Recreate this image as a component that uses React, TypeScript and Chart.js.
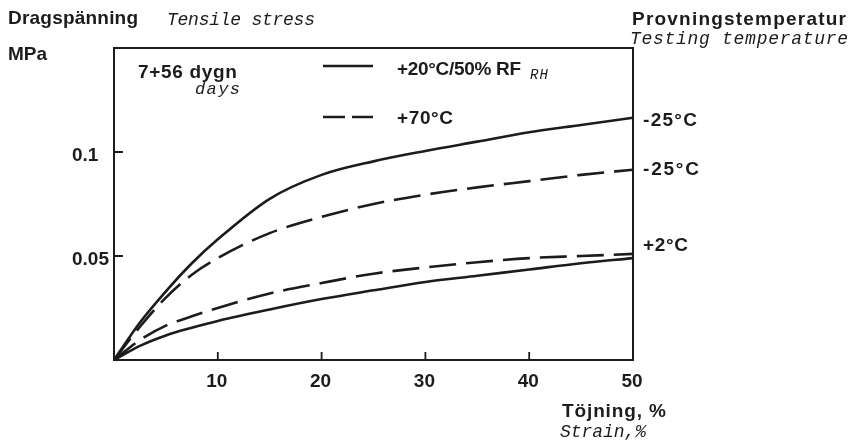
import React, { useEffect, useRef } from "react";
import { Chart, registerables } from "chart.js";

Chart.register(...registerables);

// Strain, % (x positions at which the curves were read)
const strainPoints = [0, 2.5, 5, 7.5, 10, 15, 20, 25, 30, 35, 40, 45, 50];
// Tensile stress, MPa
const solidCold = [0, 0.018, 0.033, 0.0465, 0.058, 0.0775, 0.089, 0.0955, 0.1005, 0.105, 0.1095, 0.113, 0.1165];
const dashedCold = [0, 0.016, 0.03, 0.041, 0.049, 0.061, 0.0688, 0.075, 0.0795, 0.083, 0.086, 0.089, 0.0915];
const dashedWarm = [0, 0.0096, 0.0165, 0.021, 0.025, 0.032, 0.037, 0.0415, 0.0445, 0.047, 0.049, 0.05, 0.051];
const solidWarm = [0, 0.0068, 0.0118, 0.0155, 0.0188, 0.0243, 0.0293, 0.0335, 0.0375, 0.0405, 0.0435, 0.0465, 0.049];

const xTickValues = [10, 20, 30, 40, 50];
const xTickLabels = ["10", "20", "30", "40", "50"];
const yTickValues = [0.05, 0.1];
const yTickLabels = ["0.05", "0.1"];

const endLabels = ["-25°C", "-25°C", "+2°C"];
const legendLabels = ["+20°C/50% RF", "+70°C"];

const INK = "#1c1c1c";
const SANS = "'Liberation Sans', Arial, sans-serif";
const MONO = "'Liberation Mono', 'Courier New', monospace";

function text(
  ctx: CanvasRenderingContext2D,
  s: string,
  x: number,
  y: number,
  font: string,
  opts: { align?: CanvasTextAlign; width?: number } = {}
) {
  ctx.save();
  ctx.font = font;
  ctx.fillStyle = INK;
  ctx.textBaseline = "alphabetic";
  ctx.textAlign = opts.align || "left";
  (ctx as any).letterSpacing = "0px";
  if (opts.width) {
    const w = ctx.measureText(s).width;
    const ls = (opts.width - w) / Math.max(1, s.length - 1);
    (ctx as any).letterSpacing = ls.toFixed(2) + "px";
  }
  ctx.fillText(s, x, y);
  ctx.restore();
}

const decorPlugin = {
  id: "decor",
  afterDatasetsDraw(chart: any) {
    const { ctx, chartArea, scales } = chart;
    const xs = scales.x;
    const ys = scales.y;
    const { left, right, top, bottom } = chartArea;
    ctx.save();
    // frame
    ctx.strokeStyle = INK;
    ctx.lineWidth = 2;
    ctx.beginPath();
    ctx.rect(left, top, right - left, bottom - top);
    ctx.stroke();
    // inward ticks
    ctx.lineWidth = 1.8;
    ctx.beginPath();
    xTickValues.forEach((v) => {
      const px = xs.getPixelForValue(v);
      if (v < 50) {
        ctx.moveTo(px, bottom);
        ctx.lineTo(px, bottom - 8);
      }
    });
    yTickValues.forEach((v) => {
      const py = ys.getPixelForValue(v);
      ctx.moveTo(left, py);
      ctx.lineTo(left + 9, py);
    });
    ctx.stroke();
    ctx.restore();

    const bold = `bold 19px ${SANS}`;
    const ital = `italic 18px ${MONO}`;

    // tick labels
    xTickValues.forEach((v, i) => {
      text(ctx, xTickLabels[i], xs.getPixelForValue(v) - 1, bottom + 27, bold, { align: "center" });
    });
    yTickValues.forEach((v, i) => {
      text(ctx, yTickLabels[i], 72, ys.getPixelForValue(v) + 9, bold);
    });

    // axis titles
    text(ctx, "Dragspänning", 8, 24, bold, { width: 130 });
    text(ctx, "Tensile stress", 167, 25, ital, { width: 148 });
    text(ctx, "MPa", 8, 60, bold, { width: 39 });
    text(ctx, "Provningstemperatur", 632, 25, bold, { width: 214 });
    text(ctx, "Testing temperature", 630, 44, ital, { width: 218 });
    text(ctx, "Töjning, %", 562, 417, bold, { width: 104 });
    text(ctx, "Strain,%", 560, 437, ital, { width: 86 });

    // legend
    text(ctx, "7+56 dygn", 138, 78, bold, { width: 99 });
    text(ctx, "days", 195, 94, `italic 17px ${MONO}`, { width: 45 });
    ctx.save();
    ctx.strokeStyle = INK;
    ctx.lineWidth = 2.6;
    ctx.beginPath();
    ctx.moveTo(323, 66);
    ctx.lineTo(373, 66);
    ctx.stroke();
    ctx.setLineDash([22, 7]);
    ctx.beginPath();
    ctx.moveTo(323, 117);
    ctx.lineTo(373, 117);
    ctx.stroke();
    ctx.restore();
    text(ctx, legendLabels[0], 397, 75, bold, { width: 124 });
    text(ctx, "RH", 530, 79, `italic 14px ${MONO}`, { width: 18 });
    text(ctx, legendLabels[1], 397, 124, bold, { width: 56 });

    // curve end labels
    const endVals = [solidCold[solidCold.length - 1], dashedCold[dashedCold.length - 1], dashedWarm[dashedWarm.length - 1]];
    const endOffsets = [8, 5, -3];
    const endWidths = [54, 56, 45];
    endVals.forEach((v, i) => {
      text(ctx, endLabels[i], 643, ys.getPixelForValue(v) + endOffsets[i], bold, { width: endWidths[i] });
    });
  },
};

export default function App() {
  const ref = useRef<HTMLCanvasElement | null>(null);
  useEffect(() => {
    if (!ref.current) return;
    const mk = (arr: number[]) => strainPoints.map((x, i) => ({ x, y: arr[i] }));
    const base = {
      borderColor: INK,
      borderWidth: 2.6,
      pointRadius: 0,
      fill: false,
      cubicInterpolationMode: "monotone" as const,
      borderCapStyle: "butt" as const,
    };
    const chart = new Chart(ref.current, {
      type: "line",
      data: {
        datasets: [
          { ...base, label: "-25 solid", data: mk(solidCold) },
          { ...base, label: "-25 dashed", data: mk(dashedCold), borderDash: [27, 10] },
          { ...base, label: "+2 dashed", data: mk(dashedWarm), borderDash: [27, 10] },
          { ...base, label: "+2 solid", data: mk(solidWarm) },
        ],
      },
      options: {
        animation: false,
        responsive: false,
        devicePixelRatio: 1,
        layout: { padding: { left: 114, top: 48, right: 222, bottom: 85 } },
        plugins: { legend: { display: false }, tooltip: { enabled: false } },
        scales: {
          x: { type: "linear", min: 0, max: 50, display: false },
          y: { type: "linear", min: 0, max: 0.15, display: false },
        },
      },
      plugins: [decorPlugin],
    });
    return () => chart.destroy();
  }, []);
  return (
    <div style={{ position: "absolute", left: 0, top: 0, width: 855, height: 445, background: "#fff" }}>
      <canvas ref={ref} width={855} height={445} style={{ width: 855, height: 445, display: "block" }} />
    </div>
  );
}
